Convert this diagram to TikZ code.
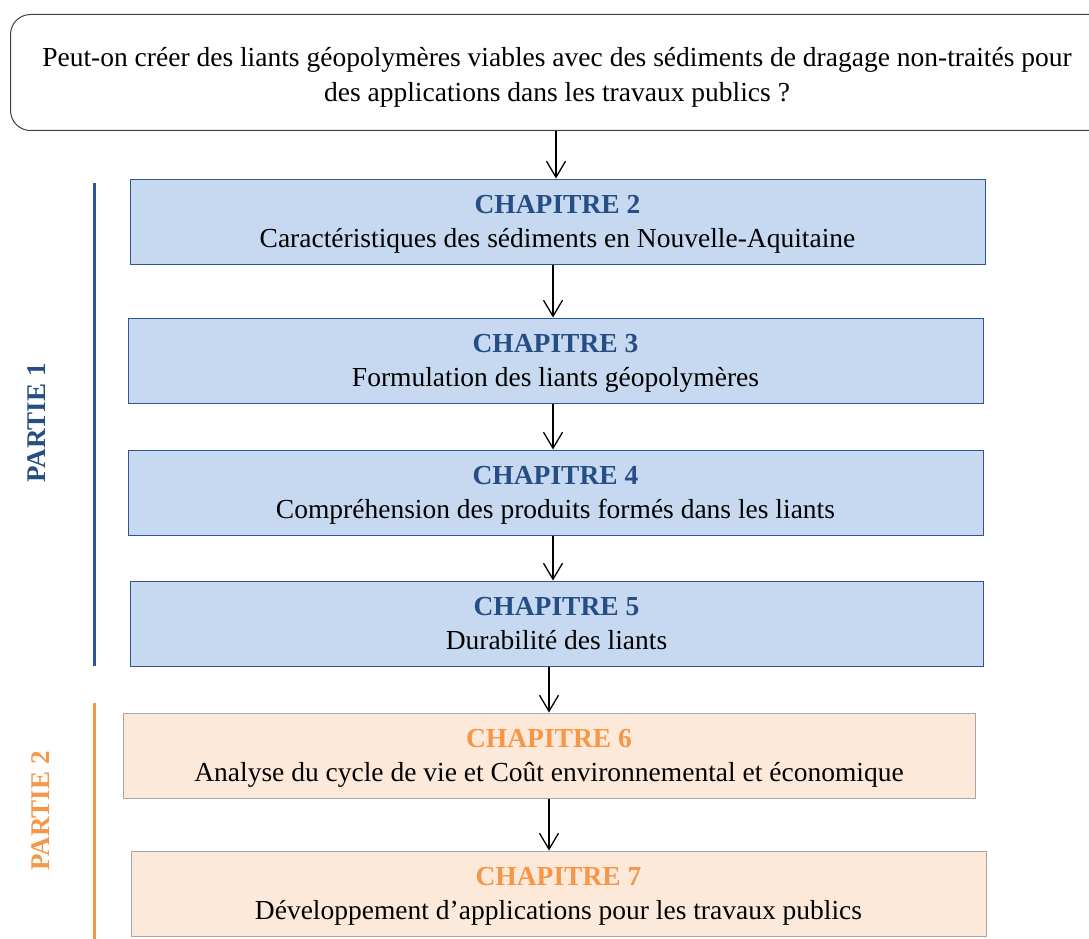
\documentclass[tikz,border=0pt]{standalone}
\usepackage{fontspec}
\setmainfont{Liberation Serif}
\usetikzlibrary{arrows.meta}
\definecolor{bluefill}{RGB}{198,217,240}
\definecolor{blueline}{RGB}{47,85,151}
\definecolor{bluetxt}{RGB}{38,78,133}
\definecolor{orfill}{RGB}{252,233,218}
\definecolor{orline}{RGB}{166,166,166}
\definecolor{ortxt}{RGB}{247,150,70}
\tikzset{
  bluebox/.style={draw=blueline, line width=1pt, fill=bluefill, minimum height=85pt, inner sep=0pt, align=center, text depth=-6pt, font=\fontsize{27.5}{33.5}\selectfont},
  orbox/.style={draw=orline, line width=1pt, fill=orfill, minimum height=85pt, inner sep=0pt, align=center, text depth=-6pt, font=\fontsize{27.5}{33.5}\selectfont},
  qbox/.style={draw=black!75, line width=1pt, rounded corners=20pt, fill=white, minimum height=116pt, inner sep=0pt},
  arr/.style={line width=1.3pt, -{Straight Barb[length=16pt,width=19pt,line width=1.3pt]}},
  partlab/.style={rotate=90, font=\fontsize{27}{30}\selectfont\bfseries},
}
\begin{document}
\begin{tikzpicture}[x=1pt,y=-1pt]
\useasboundingbox (0,0) rectangle (1089,939);
\begin{scope}
\clip (0,0) rectangle (1089,939);
\node[qbox, minimum width=1100pt, anchor=west] (q) at (10,72.5) {};
\end{scope}
\node[font=\fontsize{27.5}{35}\selectfont, align=center] (qt) at (557,77) {Peut-on créer des liants géopolymères viables avec des sédiments de dragage non-traités pour\\des applications dans les travaux publics ?};

\node[bluebox, minimum width=855pt] (c2) at (557.5,221.5) {\textcolor{bluetxt}{\bfseries CHAPITRE 2}\\Caractéristiques des sédiments en Nouvelle-Aquitaine};
\node[bluebox, minimum width=855pt] (c3) at (555.5,360.5) {\textcolor{bluetxt}{\bfseries CHAPITRE 3}\\Formulation des liants géopolymères};
\node[bluebox, minimum width=855pt] (c4) at (555.5,492.5) {\textcolor{bluetxt}{\bfseries CHAPITRE 4}\\Compréhension des produits formés dans les liants};
\node[bluebox, minimum width=853pt] (c5) at (556.5,623.5) {\textcolor{bluetxt}{\bfseries CHAPITRE 5}\\Durabilité des liants};
\node[orbox, minimum width=852pt] (c6) at (549,755.5) {\textcolor{ortxt}{\bfseries CHAPITRE 6}\\Analyse du cycle de vie et Coût environnemental et économique};
\node[orbox, minimum width=855pt] (c7) at (558.5,893.5) {\textcolor{ortxt}{\bfseries CHAPITRE 7}\\Développement d’applications pour les travaux publics};

\coordinate (a0) at (556,0);
\coordinate (a1) at (553,0);
\coordinate (a2) at (549,0);
\draw[arr] (q.south -| a0) -- (c2.north -| a0);
\draw[arr] (c2.south -| a1) -- (c3.north -| a1);
\draw[arr] (c3.south -| a1) -- (c4.north -| a1);
\draw[arr] (c4.south -| a1) -- (c5.north -| a1);
\draw[arr] (c5.south -| a2) -- (c6.north -| a2);
\draw[arr] (c6.south -| a2) -- (c7.north -| a2);

\coordinate (b1) at (94,183);
\coordinate (b2) at (94,666);
\coordinate (o1) at (94,703);
\coordinate (o2) at (94,939);
\draw[blueline, line width=3pt] (b1) -- (b2);
\draw[ortxt, line width=3pt] (o1) -- (o2);
\node[partlab, text=bluetxt] (p1) at (37,423) {PARTIE 1};
\node[partlab, text=ortxt] (p2) at (41,811) {PARTIE 2};
\end{tikzpicture}
\end{document}
